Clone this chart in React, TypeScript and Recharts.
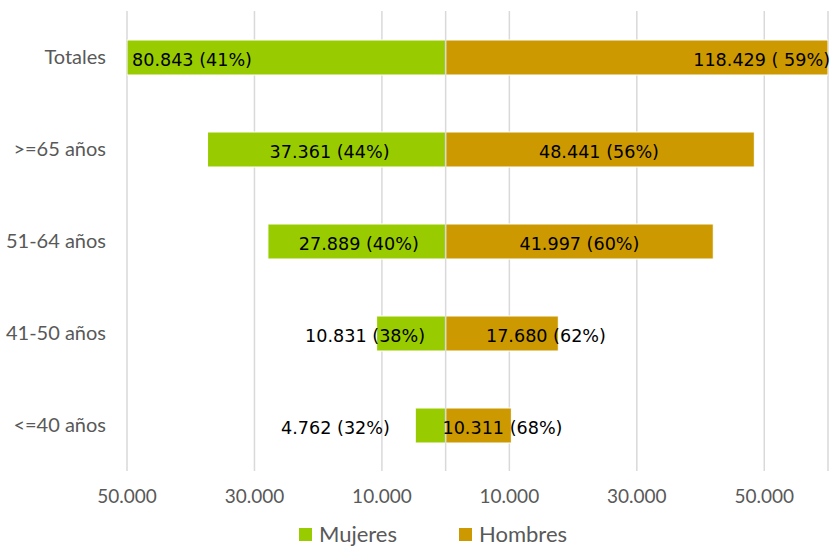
import {
  BarChart,
  Bar,
  XAxis,
  YAxis,
  CartesianGrid,
  ReferenceLine,
  Legend,
  LabelList,
} from 'recharts'

const categorias = ['Totales', '>=65 años', '51-64 años', '41-50 años', '<=40 años']
const mujeres = [80843, 37361, 27889, 10831, 4762]
const hombres = [118429, 48441, 41997, 17680, 10311]
const mujeresPct = ['41%', '44%', '40%', '38%', '32%']
const hombresPct = [' 59%', '56%', '60%', '62%', '68%']
const xTicks = [-50000, -30000, -10000, 10000, 30000, 50000]

const VERDE = '#99CC00'
const DORADO = '#CC9900'
const GRIS_TEXTO = '#595959'
const GRIS_GRID = '#D9D9D9'

const W = 830
const H = 550
const MARGIN = { top: 11, right: 2, bottom: 4, left: 0 }
const YAXIS_W = 127
const PLOT_LEFT = MARGIN.left + YAXIS_W
const PLOT_RIGHT = W - MARGIN.right

// etiquetas movidas a mano en el original (px desde el centro de la barra)
const ajusteMujeres = [0, 3, 2, -46, -95]
const ajusteHombres = [0, -1, 0, 44, 24]

const LABEL_FONT = 17.6

const fmtMiles = (v: number) =>
  String(Math.round(Math.abs(v))).replace(/\B(?=(\d{3})+(?!\d))/g, '.')

const data = categorias.map((name, i) => ({
  name,
  mujeres: -mujeres[i],
  hombres: hombres[i],
}))

const makeLabel = (serie: 'm' | 'h') => {
  // eslint-disable-next-line @typescript-eslint/no-explicit-any
  return (props: any) => {
    const { x, y, width, height, index } = props
    const texto =
      serie === 'm'
        ? `${fmtMiles(mujeres[index])} (${mujeresPct[index]})`
        : `${fmtMiles(hombres[index])} (${hombresPct[index]})`
    const left = Math.min(x, x + width)
    const right = Math.max(x, x + width)
    let tx = (left + right) / 2 + (serie === 'm' ? ajusteMujeres[index] : ajusteHombres[index])
    let anchor: 'start' | 'middle' | 'end' = 'middle'
    // barra cortada por el borde del eje: la etiqueta se pega al borde
    if (left <= PLOT_LEFT + 0.5) {
      tx = PLOT_LEFT + 5
      anchor = 'start'
    } else if (right >= PLOT_RIGHT - 0.5) {
      tx = PLOT_RIGHT + 2
      anchor = 'end'
    }
    return (
      <text
        x={tx}
        y={y + height / 2 + 2}
        dy="0.35em"
        textAnchor={anchor}
        fill="#000"
        fontSize={LABEL_FONT}
        fontFamily="DejaVu Sans"
      >
        {texto}
      </text>
    )
  }
}

const Leyenda = () => (
  <div
    style={{
      height: 24,
      display: 'flex',
      justifyContent: 'center',
      alignItems: 'center',
      paddingLeft: 38,
      fontFamily: 'Lato',
      fontSize: 22,
      lineHeight: '24px',
      color: GRIS_TEXTO,
      gap: 62,
    }}
  >
    <span style={{ display: 'flex', alignItems: 'center' }}>
      <span style={{ width: 13, height: 13, background: VERDE, marginRight: 7 }} />
      Mujeres
    </span>
    <span style={{ display: 'flex', alignItems: 'center' }}>
      <span style={{ width: 13, height: 13, background: DORADO, marginRight: 7 }} />
      Hombres
    </span>
  </div>
)

export default function App() {
  return (
    <div style={{ position: 'absolute', left: 0, top: 0, width: W, height: 546, overflow: 'hidden', background: '#fff' }}>
      <BarChart
        width={W}
        height={H}
        data={data}
        layout="vertical"
        stackOffset="sign"
        margin={MARGIN}
        barSize={35}
      >
        <CartesianGrid horizontal={false} stroke={GRIS_GRID} strokeWidth={1.5} />
        <XAxis
          type="number"
          domain={[-50000, 60000]}
          ticks={xTicks}
          allowDataOverflow
          tickFormatter={fmtMiles}
          axisLine={false}
          tickLine={false}
          tickSize={0}
          tickMargin={19}
          height={51}
          tick={{ fill: GRIS_TEXTO, fontSize: 19, fontFamily: 'Lato' }}
        />
        <YAxis
          type="category"
          dataKey="name"
          width={YAXIS_W}
          axisLine={false}
          tickLine={false}
          tickSize={0}
          tickMargin={21}
          tick={{ fill: GRIS_TEXTO, fontSize: 20, fontFamily: 'Lato' }}
        />
        <ReferenceLine x={0} stroke={GRIS_GRID} strokeWidth={1.5} />
        <Legend verticalAlign="bottom" content={<Leyenda />} />
        <Bar dataKey="mujeres" name="Mujeres" stackId="a" fill={VERDE} stroke="#fff" strokeWidth={1} isAnimationActive={false}>
          <LabelList dataKey="mujeres" content={makeLabel('m')} />
        </Bar>
        <Bar dataKey="hombres" name="Hombres" stackId="a" fill={DORADO} stroke="#fff" strokeWidth={1} isAnimationActive={false}>
          <LabelList dataKey="hombres" content={makeLabel('h')} />
        </Bar>
      </BarChart>
    </div>
  )
}
